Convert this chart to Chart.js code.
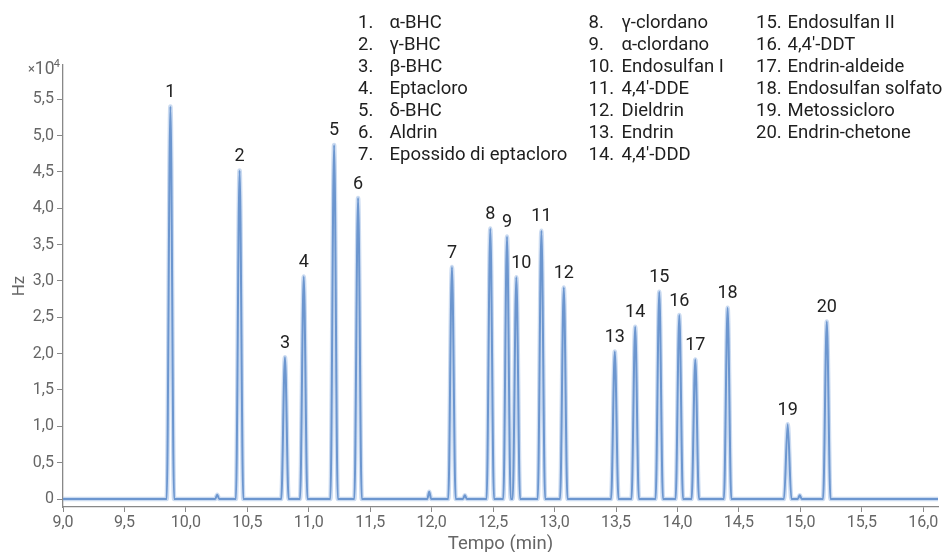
<!DOCTYPE html>
<html><head><meta charset="utf-8">
<script src="https://cdn.jsdelivr.net/npm/chart.js@4.4.1/dist/chart.umd.min.js"></script>
<style>html,body{margin:0;padding:0;background:#fff;}#wrap{width:945px;height:552px;position:relative;}</style>
</head><body><div id="wrap"><canvas id="c" width="945" height="552"></canvas></div>
<script>
// ---- data (times in min, heights in Hz x10^4) ----
const peakNumbers = ['1','2','3','4','5','6','7','8','9','10','11','12','13','14','15','16','17','18','19','20'];
const peakTimes = [9.874, 10.437, 10.806, 10.959, 11.206, 11.401, 12.165, 12.477, 12.613, 12.689, 12.893, 13.075, 13.490, 13.656, 13.852, 14.015, 14.145, 14.408, 14.897, 15.215];
const peakHeights = [5.40, 4.52, 1.95, 3.06, 4.87, 4.14, 3.19, 3.72, 3.61, 3.05, 3.69, 2.91, 2.03, 2.37, 2.85, 2.53, 1.92, 2.63, 1.03, 2.44];
const minorTimes = [10.255, 11.980, 12.270, 14.995];
const minorHeights = [0.06, 0.10, 0.05, 0.05];
const compoundNames = ['α-BHC','γ-BHC','β-BHC','Eptacloro','δ-BHC','Aldrin','Epossido di eptacloro',
  'γ-clordano','α-clordano','Endosulfan I','4,4′-DDE','Dieldrin','Endrin','4,4′-DDD',
  'Endosulfan II','4,4′-DDT','Endrin-aldeide','Endosulfan solfato','Metossicloro','Endrin-chetone'];
const xTicks = [9.0, 9.5, 10.0, 10.5, 11.0, 11.5, 12.0, 12.5, 13.0, 13.5, 14.0, 14.5, 15.0, 15.5, 16.0];
const yTicks = [0, 0.5, 1.0, 1.5, 2.0, 2.5, 3.0, 3.5, 4.0, 4.5, 5.0, 5.5];
const timeRange = [9.0, 16.12];

// ---- build the trace table for the library ----
const HW = 0.03, HWm = 0.016;
const pts = [{x: timeRange[0], y: 0}, {x: timeRange[1], y: 0}];
peakTimes.forEach((t, i) => { pts.push({x: t - HW, y: 0}, {x: t, y: peakHeights[i]}, {x: t + HW, y: 0}); });
minorTimes.forEach((t, i) => { pts.push({x: t - HWm, y: 0}, {x: t, y: minorHeights[i]}, {x: t + HWm, y: 0}); });
pts.sort((a, b) => a.x - b.x);

const FONT = 'Roboto';
const fmt = v => v === 0 ? '0' : v.toFixed(1).replace('.', ',');

const textPlugin = {
  id: 'texts',
  afterDraw(chart) {
    const ctx = chart.ctx, xs = chart.scales.x, ys = chart.scales.y;
    ctx.save();
    // peak labels
    ctx.fillStyle = '#222';
    ctx.font = '18px ' + FONT;
    ctx.textAlign = 'center';
    ctx.textBaseline = 'middle';
    peakTimes.forEach((t, i) => {
      const px = xs.getPixelForValue(t) + (peakNumbers[i] === '10' ? 5 : 0);
      const py = ys.getPixelForValue(peakHeights[i]) - 14;
      ctx.fillText(peakNumbers[i], px, py);
    });
    // legend list
    ctx.textAlign = 'left';
    ctx.fillStyle = '#1e1e1e';
    ctx.font = '18.5px ' + FONT;
    compoundNames.forEach((name, i) => {
      const col = i < 7 ? 0 : (i < 14 ? 1 : 2);
      const row = i < 7 ? i : (i < 14 ? i - 7 : i - 14);
      const y = 23.5 + row * 22;
      let numX, nameX;
      if (col === 0) { numX = 358; nameX = 389.5; }
      else if (col === 1) { numX = 588.5; nameX = 621.5; }
      else { numX = 756; nameX = 787.5; }
      ctx.fillText((i + 1) + '.', numX, y);
      ctx.fillText(name, nameX, y);
    });
    // axis titles
    ctx.fillStyle = '#666';
    ctx.textAlign = 'center';
    ctx.font = '18.5px ' + FONT;
    ctx.fillText('Tempo (min)', (xs.left + xs.right) / 2, 544);
    ctx.save();
    ctx.translate(20, (ys.top + ys.bottom) / 2);
    ctx.rotate(-Math.PI / 2);
    ctx.font = '17px ' + FONT;
    ctx.fillText('Hz', 0, 0);
    ctx.restore();
    // multiplier
    ctx.textAlign = 'right';
    ctx.textBaseline = 'alphabetic';
    ctx.font = '11px ' + FONT;
    ctx.fillText('4', 60, 67);
    ctx.font = '17.5px ' + FONT;
    ctx.fillText('10', 54.5, 74);
    ctx.font = '13px ' + FONT;
    ctx.fillText('×', 35, 73);
    ctx.restore();
  }
};

new Chart(document.getElementById('c'), {
  type: 'line',
  data: {
    datasets: [
      {data: pts, borderColor: 'rgba(140,175,225,0.45)', borderWidth: 4.5, pointRadius: 0, cubicInterpolationMode: 'monotone', fill: false},
      {data: pts, borderColor: '#5282c2', borderWidth: 2, pointRadius: 0, cubicInterpolationMode: 'monotone', fill: false}
    ]
  },
  options: {
    responsive: false,
    animation: false,
    events: [],
    layout: {padding: {top: 65, right: 7, left: 0, bottom: 0}},
    plugins: {legend: {display: false}, tooltip: {enabled: false}},
    scales: {
      x: {
        type: 'linear', min: timeRange[0], max: timeRange[1],
        afterBuildTicks: s => { s.ticks = xTicks.map(v => ({value: v})); },
        afterFit: s => { s.height = 45; },
        grid: {drawOnChartArea: false, drawTicks: true, tickLength: 5, color: '#888'},
        border: {color: '#888', width: 1.3},
        ticks: {color: '#666', font: {family: FONT, size: 16}, padding: 1, maxRotation: 0, autoSkip: false, callback: v => fmt(v)}
      },
      y: {
        type: 'linear', min: -0.11, max: 5.97,
        afterBuildTicks: s => { s.ticks = yTicks.map(v => ({value: v})); },
        afterFit: s => { s.width = 63; },
        grid: {drawOnChartArea: false, drawTicks: true, tickLength: 6, color: '#888'},
        border: {color: '#888', width: 1.3},
        ticks: {color: '#666', font: {family: FONT, size: 16}, padding: 3, autoSkip: false, callback: v => fmt(v)}
      }
    }
  },
  plugins: [textPlugin]
});
</script></body></html>
